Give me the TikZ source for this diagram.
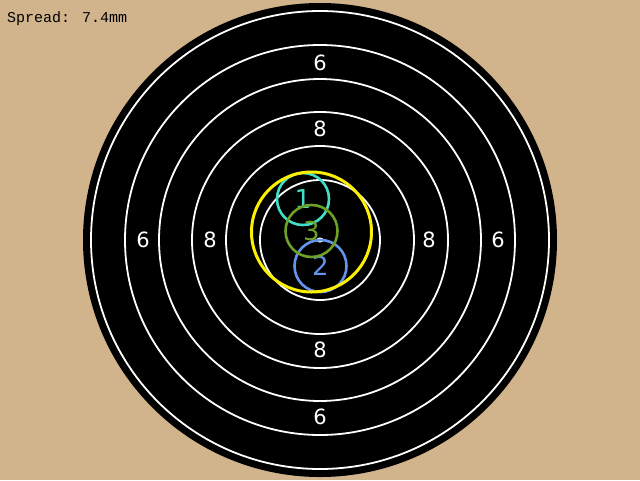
\documentclass[tikz,border=0pt]{standalone}
\usepackage{fontspec}
\setmainfont{DejaVu Sans}
\newfontfamily\monofont{Liberation Mono}
\usepackage{tikz}
\usetikzlibrary{positioning}
\definecolor{paper}{RGB}{210,180,140}
\definecolor{shotone}{RGB}{64,224,200}
\definecolor{shottwo}{RGB}{100,149,237}
\definecolor{shotthree}{RGB}{110,160,40}
\definecolor{groupring}{RGB}{250,240,0}
\tikzset{
  ring/.style={draw=white, line width=1.8pt},
  score/.style={text=white, font=\fontsize{21}{21}\selectfont, inner sep=0pt},
  shot/.style={circle, line width=2.6pt, minimum size=52pt, inner sep=0pt, font=\fontsize{26}{26}\selectfont},
  caption/.style={anchor=west, inner sep=0pt, font=\monofont\fontsize{15}{15}\selectfont}
}
\begin{document}
\begin{tikzpicture}[x=1pt,y=-1pt]
\useasboundingbox (0,0) rectangle (640,480);
\fill[paper] (0,0) rectangle (640,480);
% target face
\fill[black] (320,240) circle (237);
\foreach \r in {60,94,128,161,195,229}
  \draw[ring] (320,240) circle (\r);
\node[score] (s6n) at (320,63) {6};
\node[score] (s6s) at (320,417) {6};
\node[score] (s6w) at (143,240) {6};
\node[score] (s6e) at (498,240) {6};
\node[score] (s8n) at (320,129) {8};
\node[score] (s8s) at (320,350) {8};
\node[score] (s8w) at (210,240) {8};
\node[score] (s8e) at (429,240) {8};
% centre mark
\fill[white] (320,240) ellipse (3.5 and 2.5);
% shots
\node[shot, draw=shotone, text=shotone] (shot1) at (303,199) {1};
\node[shot, draw=shottwo, text=shottwo] (shot2) at (320.5,266) {2};
\node[shot, draw=shotthree, text=shotthree] (shot3) at (311.5,231) {3};
\draw[groupring, line width=3pt] (311.5,232) circle (60);
\node[caption] (spread) at (7,19) {Spread: 7.4mm};
\end{tikzpicture}
\end{document}
